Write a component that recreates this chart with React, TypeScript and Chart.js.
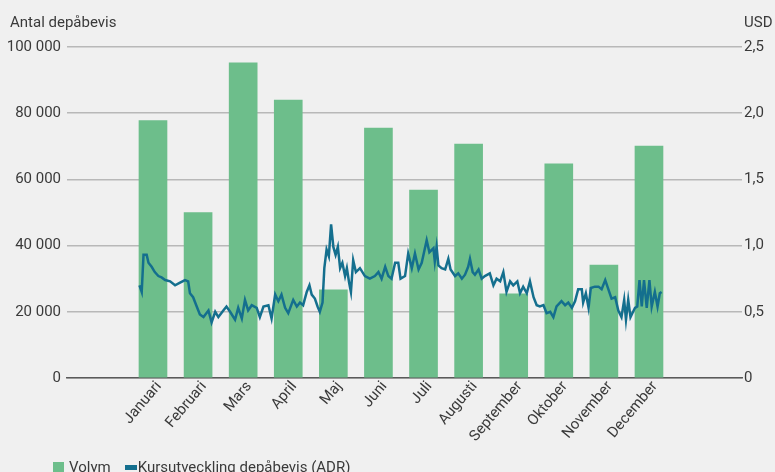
import React, { useEffect, useRef } from "react";
import { Chart, registerables } from "chart.js";

Chart.register(...registerables);

const months = ["Januari", "Februari", "Mars", "April", "Maj", "Juni", "Juli", "Augusti", "September", "Oktober", "November", "December"];
const volume = [77800, 50000, 95200, 84000, 26600, 75500, 56800, 70700, 25400, 64700, 34100, 70100];

// ADR price, position measured in months (0 = January, 11 = December)
const adrMonthPos = [
  -0.30, -0.25, -0.21, -0.14, -0.10, -0.03, 0.04, 0.12, 0.19, 0.27, 0.38, 0.49, 0.60, 0.71, 0.78, 0.82, 0.89, 0.97,
  1.04, 1.12, 1.23, 1.30, 1.38, 1.45, 1.56, 1.63, 1.71, 1.82, 1.89, 1.97, 2.04, 2.11, 2.19, 2.30, 2.37, 2.45,
  2.56, 2.63, 2.71, 2.78, 2.85, 2.93, 3.00, 3.11, 3.19, 3.26, 3.33, 3.41, 3.47, 3.52, 3.59, 3.65, 3.70, 3.76,
  3.80, 3.85, 3.90, 3.95, 4.00, 4.05, 4.10, 4.15, 4.20, 4.26, 4.30, 4.35, 4.39, 4.44, 4.50, 4.59, 4.70, 4.81,
  4.92, 5.00, 5.07, 5.15, 5.22, 5.29, 5.37, 5.44, 5.49, 5.59, 5.66, 5.74, 5.81, 5.89, 5.96, 6.07, 6.13, 6.22,
  6.25, 6.29, 6.33, 6.40, 6.48, 6.55, 6.60, 6.70, 6.77, 6.85, 6.92, 6.99, 7.03, 7.09, 7.14, 7.22, 7.29, 7.36,
  7.47, 7.55, 7.62, 7.70, 7.77, 7.84, 7.92, 7.99, 8.08, 8.14, 8.21, 8.29, 8.36, 8.44, 8.51, 8.58, 8.66, 8.73,
  8.81, 8.88, 8.95, 9.06, 9.14, 9.21, 9.29, 9.36, 9.43, 9.51, 9.54, 9.60, 9.66, 9.71, 9.80, 9.88, 9.95, 10.03,
  10.10, 10.17, 10.25, 10.32, 10.39, 10.45, 10.49, 10.54, 10.59, 10.69, 10.74, 10.79, 10.84, 10.89, 10.95, 11.01,
  11.06, 11.13, 11.19, 11.24, 11.28,
];
const adrPrice = [
  0.70, 0.65, 0.93, 0.93, 0.87, 0.84, 0.80, 0.77, 0.76, 0.74, 0.73, 0.70, 0.72, 0.74, 0.73, 0.64, 0.61, 0.54,
  0.48, 0.46, 0.51, 0.42, 0.50, 0.46, 0.51, 0.54, 0.50, 0.44, 0.53, 0.45, 0.59, 0.51, 0.55, 0.53, 0.46, 0.54,
  0.55, 0.45, 0.63, 0.58, 0.63, 0.53, 0.49, 0.59, 0.54, 0.57, 0.55, 0.65, 0.70, 0.63, 0.60, 0.54, 0.50, 0.57,
  0.83, 0.97, 0.92, 1.16, 0.99, 0.93, 0.99, 0.83, 0.87, 0.77, 0.83, 0.72, 0.65, 0.89, 0.80, 0.83, 0.77, 0.75,
  0.77, 0.80, 0.75, 0.84, 0.77, 0.75, 0.87, 0.87, 0.75, 0.77, 0.94, 0.83, 0.94, 0.82, 0.87, 1.04, 0.95, 0.98,
  0.88, 0.99, 0.85, 0.83, 0.82, 0.90, 0.82, 0.77, 0.79, 0.75, 0.78, 0.84, 0.90, 0.80, 0.78, 0.82, 0.75, 0.77,
  0.79, 0.70, 0.75, 0.73, 0.80, 0.65, 0.73, 0.70, 0.73, 0.64, 0.69, 0.64, 0.73, 0.61, 0.55, 0.54, 0.55, 0.49,
  0.50, 0.46, 0.54, 0.58, 0.55, 0.57, 0.53, 0.58, 0.67, 0.67, 0.57, 0.64, 0.53, 0.68, 0.69, 0.69, 0.67, 0.74,
  0.67, 0.60, 0.61, 0.51, 0.46, 0.59, 0.44, 0.59, 0.46, 0.53, 0.54, 0.74, 0.54, 0.74, 0.53, 0.74,
  0.54, 0.65, 0.54, 0.64, 0.65,
];

const leftTicks = [0, 20000, 40000, 60000, 80000, 100000];
const rightTicks = [0, 0.5, 1.0, 1.5, 2.0, 2.5];

const leftTitle = "Antal depåbevis";
const rightTitle = "USD";
const legendLabels = ["Volym", "Kursutveckling depåbevis (ADR)"];

const GREEN = "#6dbe8b";
const BLUE = "#146f8e";
const TEXT = "#3a3a3a";
const FONT = "Roboto, 'Noto Sans', sans-serif";

const fmtThousands = (v: number) => String(v).replace(/\B(?=(\d{3})+(?!\d))/g, " ");
const fmtUsd = (v: number) => (v === 0 ? "0" : v.toFixed(1).replace(".", ","));

export default function App() {
  const ref = useRef<HTMLCanvasElement | null>(null);

  useEffect(() => {
    if (!ref.current) return;
    const chart = new Chart(ref.current, {
      type: "bar",
      data: {
        datasets: [
          {
            type: "line",
            label: legendLabels[1],
            data: adrMonthPos.map((x, i) => ({ x, y: adrPrice[i] })),
            yAxisID: "y1",
            xAxisID: "x",
            borderColor: BLUE,
            backgroundColor: BLUE,
            borderWidth: 2.5,
            pointRadius: 0,
            tension: 0,
            order: 0,
          } as any,
          {
            type: "bar",
            label: legendLabels[0],
            data: volume.map((y, i) => ({ x: i, y })),
            yAxisID: "y",
            xAxisID: "x",
            backgroundColor: GREEN,
            borderWidth: 0,
            barThickness: 28,
            order: 1,
          } as any,
        ],
      },
      options: {
        animation: false,
        responsive: false,
        maintainAspectRatio: false,
        layout: { padding: { top: 47, left: 0, right: 0, bottom: 0 } },
        plugins: {
          legend: { display: false },
          tooltip: { enabled: false },
        },
        scales: {
          x: {
            type: "linear",
            offset: false,
            min: -1.907,
            max: 13.063,
            grid: { display: false, drawTicks: false },
            border: { display: true, color: "#5a5a5a", width: 1.5 },
            afterBuildTicks: (axis: any) => {
              axis.ticks = months.map((_, i) => ({ value: i }));
            },
            afterFit: (s: any) => {
              s.height = 94;
            },
            ticks: {
              autoSkip: false,
              minRotation: 50,
              maxRotation: 50,
              padding: 0,
              labelOffset: 6,
              color: TEXT,
              font: { family: FONT, size: 15 },
              callback: (v: any) => months[v] ?? "",
            },
          },
          y: {
            position: "left",
            min: 0,
            max: 100000,
            afterBuildTicks: (axis: any) => {
              axis.ticks = leftTicks.map((value) => ({ value }));
            },
            afterFit: (s: any) => {
              s.width = 67;
            },
            grid: { color: "#b8b8b8", lineWidth: 1.5, drawTicks: false },
            border: { display: false },
            ticks: {
              padding: 6,
              color: TEXT,
              font: { family: FONT, size: 15 },
              callback: (v: any) => fmtThousands(Number(v)),
            },
          },
          y1: {
            position: "right",
            min: 0,
            max: 2.5,
            afterBuildTicks: (axis: any) => {
              axis.ticks = rightTicks.map((value) => ({ value }));
            },
            afterFit: (s: any) => {
              s.width = 33;
            },
            grid: { display: false, drawTicks: false },
            border: { display: false },
            ticks: {
              padding: 2,
              color: TEXT,
              font: { family: FONT, size: 15 },
              callback: (v: any) => fmtUsd(Number(v)),
            },
          },
        },
      } as any,
    });
    return () => chart.destroy();
  }, []);

  const textStyle: React.CSSProperties = {
    position: "absolute",
    fontFamily: FONT,
    fontSize: 15,
    color: TEXT,
    lineHeight: "18px",
    whiteSpace: "nowrap",
  };

  return (
    <div style={{ position: "absolute", left: 0, top: 0, width: 775, height: 472, background: "#f0f0f0", overflow: "hidden" }}>
      <canvas ref={ref} width={775} height={472} style={{ position: "absolute", left: 0, top: 0 }} />
      <div style={{ ...textStyle, left: 10, top: 13 }}>{leftTitle}</div>
      <div style={{ ...textStyle, left: 744, top: 13 }}>{rightTitle}</div>
      <div style={{ ...textStyle, left: 53, top: 458, display: "flex", alignItems: "center" }}>
        <span style={{ display: "inline-block", width: 11, height: 11, background: GREEN, marginRight: 5 }} />
        <span style={{ marginRight: 14 }}>{legendLabels[0]}</span>
        <span style={{ display: "inline-block", width: 12, height: 5, background: BLUE, marginRight: 1 }} />
        <span>{legendLabels[1]}</span>
      </div>
    </div>
  );
}
